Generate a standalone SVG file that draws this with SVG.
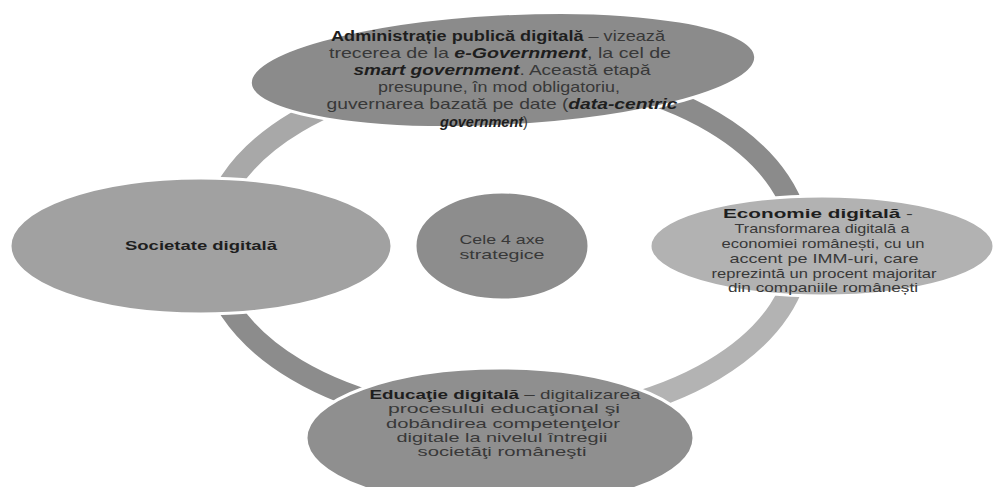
<svg xmlns="http://www.w3.org/2000/svg" width="996" height="487" viewBox="0 0 996 487">
<style>
.arc{fill:none;stroke-width:22}
.node{stroke:#fff;stroke-width:3}
text{font-family:"Liberation Sans",Arial,sans-serif;fill:#383838;text-anchor:middle}
.b{font-weight:bold;fill:#1e1e1e}
.bi{font-weight:bold;font-style:italic;fill:#1e1e1e}
.t{font-size:14.5px}
.r{font-size:12.8px}
.u{font-size:12.4px}
</style>
<rect width="996" height="487" fill="#fff"/>
<g id="connectors">
<path class="arc" stroke="#a8a8a8" d="M210,246 A295,175 0 0 1 505,71"/>
<path class="arc" stroke="#8b8b8b" d="M505,71 A295,175 0 0 1 800,246"/>
<path class="arc" stroke="#b3b3b3" d="M800,246 A295,175 0 0 1 505,421"/>
<path class="arc" stroke="#8c8c8c" d="M505,421 A295,175 0 0 1 210,246"/>
</g>
<g id="center">
<ellipse class="node" cx="502" cy="246" rx="87" ry="54" fill="#8d8d8d"/>
<text class="r" x="502" y="244" textLength="85" lengthAdjust="spacingAndGlyphs">Cele 4 axe</text>
<text class="r" x="502" y="259" textLength="85" lengthAdjust="spacingAndGlyphs">strategice</text>
</g>
<g id="left">
<ellipse class="node" cx="201" cy="246" rx="191" ry="68" fill="#a1a1a1"/>
<text class="r b" x="201" y="250" textLength="152" lengthAdjust="spacingAndGlyphs">Societate digitală</text>
</g>
<g id="right">
<ellipse class="node" cx="822" cy="246" rx="172" ry="50" fill="#b2b2b2"/>
<text class="r" x="818" y="218" textLength="190" lengthAdjust="spacingAndGlyphs"><tspan class="b">Economie digitală</tspan> -</text>
<text class="r" x="822" y="233" textLength="175" lengthAdjust="spacingAndGlyphs">Transformarea digitală a</text>
<text class="r" x="823" y="248" textLength="203" lengthAdjust="spacingAndGlyphs">economiei românești, cu un</text>
<text class="r" x="824" y="263" textLength="189" lengthAdjust="spacingAndGlyphs">accent pe  IMM-uri, care</text>
<text class="r" x="824" y="278" textLength="225" lengthAdjust="spacingAndGlyphs">reprezintă un procent majoritar</text>
<text class="r" x="823" y="292" textLength="190" lengthAdjust="spacingAndGlyphs">din companiile românești</text>
</g>
<g id="bottom">
<ellipse class="node" cx="500" cy="438" rx="194" ry="70" fill="#8f8f8f"/>
<text class="u" x="505" y="399" textLength="271" lengthAdjust="spacingAndGlyphs"><tspan class="b">Educaţie digitală</tspan> – digitalizarea</text>
<text class="u" x="504" y="413" textLength="232" lengthAdjust="spacingAndGlyphs">procesului educaţional şi</text>
<text class="u" x="503" y="427.5" textLength="234" lengthAdjust="spacingAndGlyphs">dobândirea competenţelor</text>
<text class="u" x="502" y="442" textLength="211" lengthAdjust="spacingAndGlyphs">digitale la nivelul întregii</text>
<text class="u" x="502" y="456" textLength="169" lengthAdjust="spacingAndGlyphs">societăţi româneşti</text>
</g>
<g id="top">
<ellipse class="node" cx="503" cy="70" rx="253" ry="56" fill="#8b8b8b" transform="rotate(-3 503 70)"/>
<text class="t" x="498" y="41" textLength="334" lengthAdjust="spacingAndGlyphs"><tspan class="b">Administrație publică digitală</tspan> – vizează</text>
<text class="t" x="500" y="58" textLength="342" lengthAdjust="spacingAndGlyphs">trecerea de la <tspan class="bi">e-Government</tspan>, la cel de</text>
<text class="t" x="502" y="75" textLength="297" lengthAdjust="spacingAndGlyphs"><tspan class="bi">smart government</tspan>. Această etapă</text>
<text class="t" x="499" y="92" textLength="242" lengthAdjust="spacingAndGlyphs">presupune, în mod obligatoriu,</text>
<text class="t" x="502" y="109" textLength="351" lengthAdjust="spacingAndGlyphs">guvernarea bazată pe date (<tspan class="bi">data-centric</tspan></text>
<text class="t" x="484" y="126.5"><tspan class="bi">government</tspan>)</text>
</g>
</svg>
